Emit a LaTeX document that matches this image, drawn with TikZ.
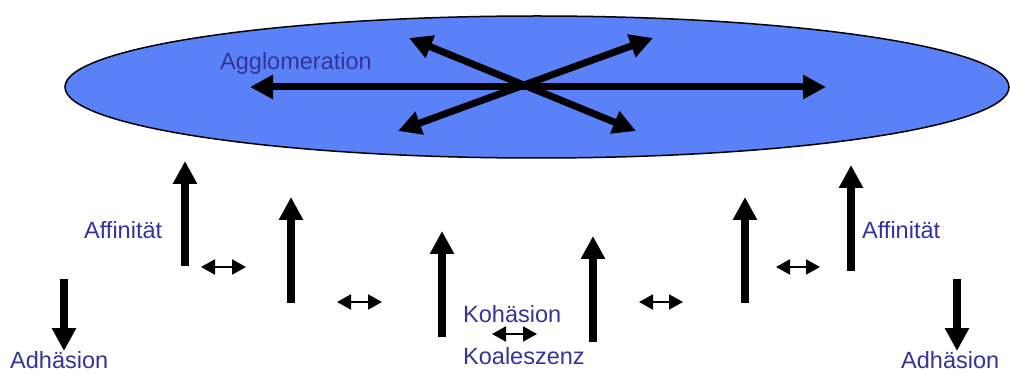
\documentclass[tikz,border=0pt]{standalone}
\usepackage{fontspec}
\setmainfont{Liberation Sans}
\usetikzlibrary{arrows.meta,shapes.geometric}
\definecolor{blobfill}{HTML}{5B81F8}
\definecolor{labelblue}{HTML}{333399}
\tikzset{
  bigarrow/.style={line width=7.5pt,-{Triangle[length=23pt,width=23pt]}},
  bigdouble/.style={line width=7pt,{Triangle[length=23pt,width=23pt]}-{Triangle[length=23pt,width=23pt]}},
  smalldouble/.style={line width=2pt,{Triangle[length=14pt,width=15pt]}-{Triangle[length=14pt,width=15pt]}},
  lbl/.style={text=labelblue,font=\fontsize{23.5pt}{26pt}\selectfont,inner sep=0pt,anchor=base west},
}
\begin{document}
\begin{tikzpicture}[x=1pt,y=-1pt]
\useasboundingbox (0,0) rectangle (1010,374);
\node[ellipse,draw=black,line width=1.5pt,fill=blobfill,minimum width=944pt,minimum height=142pt,inner sep=0pt] (blob) at (537,87) {};
\node[lbl] (aggl) at (220,70) {Agglomeration};
% arrows inside the ellipse
\coordinate (hl) at (250,87);
\coordinate (hr) at (826,87);
\coordinate (d1a) at (409,38);
\coordinate (d1b) at (636,131);
\coordinate (d2a) at (398,131);
\coordinate (d2b) at (653,38);
\draw[bigdouble] (hl) -- (hr);
\draw[bigdouble] (d1a) -- (d1b);
\draw[bigdouble] (d2a) -- (d2b);
% vertical arrows
\coordinate (v1b) at (185,266); \coordinate (v1t) at (185,161);
\coordinate (v2b) at (291,303); \coordinate (v2t) at (291,197);
\coordinate (v3b) at (442,337); \coordinate (v3t) at (442,231);
\coordinate (v4b) at (593,342); \coordinate (v4t) at (593,236);
\coordinate (v5b) at (745,303); \coordinate (v5t) at (745,197);
\coordinate (v6b) at (851,271); \coordinate (v6t) at (851,165);
\foreach \i in {1,...,6} \draw[bigarrow] (v\i b) -- (v\i t);
% down arrows
\coordinate (al1) at (64,279); \coordinate (al2) at (64,351);
\coordinate (ar1) at (957,279); \coordinate (ar2) at (957,351);
\draw[bigarrow] (al1) -- (al2);
\draw[bigarrow] (ar1) -- (ar2);
% small double arrows
\coordinate (s1a) at (201,267); \coordinate (s1b) at (246,267);
\coordinate (s2a) at (337,302); \coordinate (s2b) at (382,302);
\coordinate (s3a) at (492,334); \coordinate (s3b) at (537,334);
\coordinate (s4a) at (639,302); \coordinate (s4b) at (683,302);
\coordinate (s5a) at (776,267); \coordinate (s5b) at (820,267);
\foreach \i in {1,...,5} \draw[smalldouble] (s\i a) -- (s\i b);
% labels
\node[lbl] (aff1) at (84,239) {Affinität};
\node[lbl] (aff2) at (862,239) {Affinität};
\node[lbl] (adh1) at (10,368) {Adhäsion};
\node[lbl] (adh2) at (901,368) {Adhäsion};
\node[lbl] (koh) at (463,323) {Kohäsion};
\node[lbl] (koa) at (463,364) {Koaleszenz};
\end{tikzpicture}
\end{document}
